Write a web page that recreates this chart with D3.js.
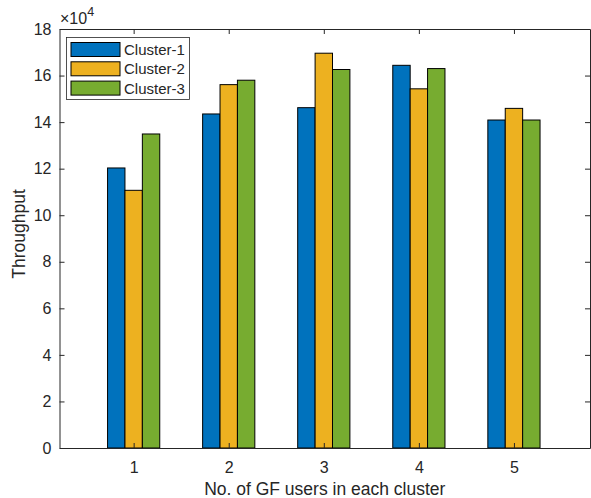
<!DOCTYPE html>
<html>
<head>
<meta charset="utf-8">
<script src="https://cdn.jsdelivr.net/npm/d3@7"></script>
<style>
  body { margin: 0; background: #fff; }
  text { font-family: "Liberation Sans", Arial, sans-serif; fill: #262626; }
</style>
</head>
<body>
<div id="chart"></div>
<script>
// data (throughput in units of 1e4)
const groups = [1, 2, 3, 4, 5];
const seriesNames = ["Cluster-1", "Cluster-2", "Cluster-3"];
const cluster1 = [12.03, 14.35, 14.62, 16.44, 14.09];
const cluster2 = [11.07, 15.61, 16.96, 15.43, 14.59];
const cluster3 = [13.49, 15.80, 16.26, 16.30, 14.09];
const yTicks = [0, 2, 4, 6, 8, 10, 12, 14, 16, 18];
const colors = ["#0072BD", "#EDB120", "#77AC30"];

const series = [cluster1, cluster2, cluster3];

const W = 591, H = 498;
const margin = {top: 29, right: 1, bottom: 50, left: 59.5};

const svg = d3.select("#chart").append("svg")
  .attr("width", W).attr("height", H);

const x = d3.scaleLinear().domain([0.22, 5.8]).range([margin.left, W - margin.right]);
const y = d3.scaleLinear().domain([0, 18]).range([H - margin.bottom, margin.top]);

// bars
const barW = 0.183;
series.forEach((vals, si) => {
  svg.append("g").selectAll("rect")
    .data(vals)
    .join("rect")
    .attr("x", (d, i) => x(groups[i] + (si - 1.5) * barW))
    .attr("y", d => y(d))
    .attr("width", x(barW) - x(0))
    .attr("height", d => y(0) - y(d))
    .attr("fill", colors[si])
    .attr("stroke", "#000")
    .attr("stroke-width", 1);
});

// axes
const axisColor = "#262626";
const xAxis = svg.append("g")
  .attr("transform", `translate(0,${y(0)})`)
  .call(d3.axisBottom(x).tickValues(groups).tickFormat(d3.format("d"))
    .tickSizeInner(-5).tickSizeOuter(0).tickPadding(14));
const xTop = svg.append("g")
  .attr("transform", `translate(0,${y(18)})`)
  .call(d3.axisTop(x).tickValues(groups).tickSizeInner(-5).tickSizeOuter(0).tickFormat(""));
const yAxis = svg.append("g")
  .attr("transform", `translate(${x(0.22)},0)`)
  .call(d3.axisLeft(y).tickValues(yTicks).tickFormat(d3.format("d"))
    .tickSizeInner(-5).tickSizeOuter(0).tickPadding(8));
const yRight = svg.append("g")
  .attr("transform", `translate(${x(5.8)},0)`)
  .call(d3.axisRight(y).tickValues(yTicks).tickSizeInner(-5).tickSizeOuter(0).tickFormat(""));

[xAxis, xTop, yAxis, yRight].forEach(g => {
  g.select(".domain").attr("stroke", axisColor).attr("stroke-width", 1);
  g.selectAll(".tick line").attr("stroke", axisColor);
  g.selectAll(".tick text")
    .attr("font-family", "'Liberation Sans', Arial, sans-serif")
    .attr("font-size", 16).attr("fill", axisColor);
});

// exponent label
const exp = svg.append("text")
  .attr("x", 60).attr("y", 24)
  .attr("font-size", 16);
exp.append("tspan").text("\u00d710");
exp.append("tspan").attr("dy", -8).attr("font-size", 12.5).text("4");

// axis labels
svg.append("text")
  .attr("x", (x(0.22) + x(5.8)) / 2).attr("y", 495)
  .attr("text-anchor", "middle")
  .attr("font-size", 17.5)
  .text("No. of GF users in each cluster");

svg.append("text")
  .attr("transform", `translate(25,234) rotate(-90)`)
  .attr("text-anchor", "middle")
  .attr("font-size", 17.5)
  .text("Throughput");

// legend
const leg = svg.append("g").attr("transform", "translate(66.5,37.5)");
leg.append("rect")
  .attr("width", 123).attr("height", 62)
  .attr("fill", "#fff").attr("stroke", "#262626").attr("stroke-width", 0.8);
seriesNames.forEach((name, i) => {
  const row = leg.append("g").attr("transform", `translate(4.5,${5 + i * 19.3})`);
  row.append("rect")
    .attr("width", 49).attr("height", 14)
    .attr("fill", colors[i]).attr("stroke", "#000").attr("stroke-width", 1);
  row.append("text")
    .attr("x", 53).attr("y", 12.5)
    .attr("font-size", 15)
    .attr("fill", "#000")
    .text(name);
});
</script>
</body>
</html>
